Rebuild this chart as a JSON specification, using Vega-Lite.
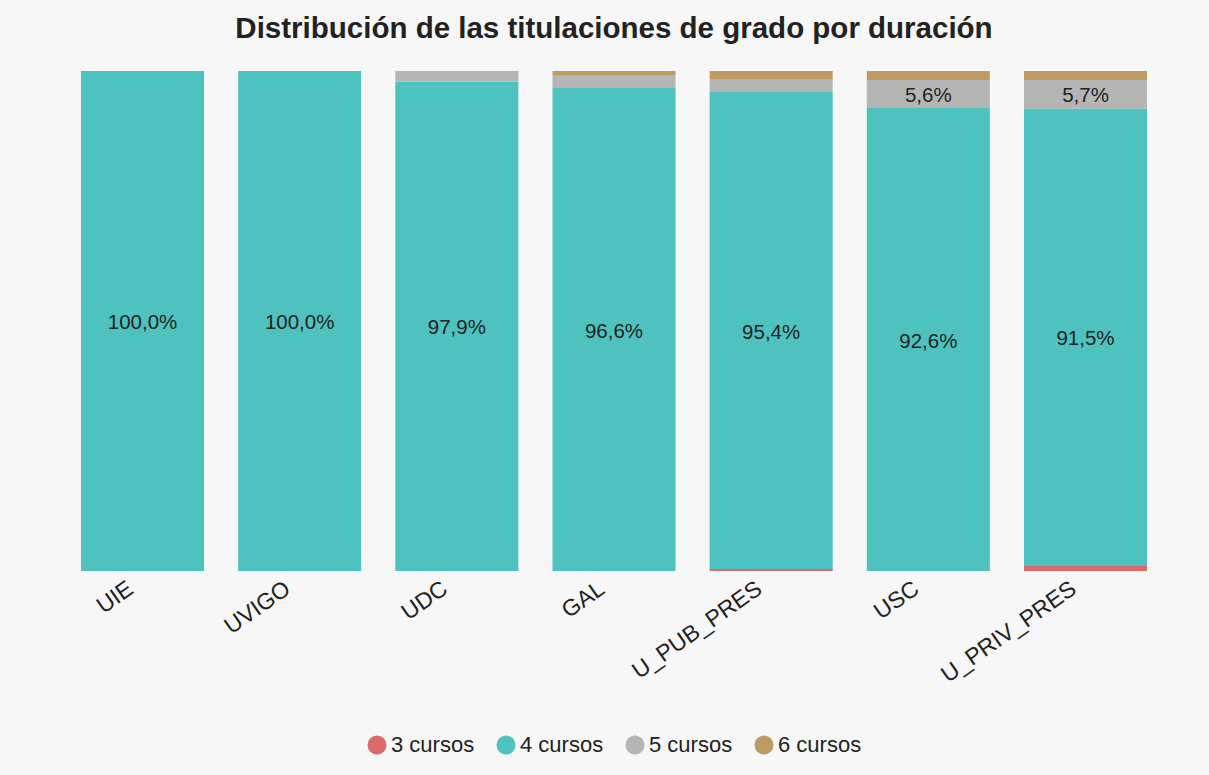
{
  "$schema": "https://vega.github.io/schema/vega-lite/v6.json",
  "width": 1100,
  "height": 500,
  "autosize": {"type": "none"},
  "padding": {"left": 64, "top": 71, "right": 45, "bottom": 204},
  "background": "#f7f7f7",
  "title": {
    "text": "Distribución de las titulaciones de grado por duración",
    "font": "Liberation Sans, Arial, sans-serif",
    "fontSize": 29.5,
    "fontWeight": "bold",
    "color": "#222222",
    "anchor": "middle",
    "baseline": "alphabetic",
    "offset": -2
  },
  "data": {
    "values": [
      {"univ": "UIE", "cursos": "4 cursos", "pct": 1.0},
      {"univ": "UVIGO", "cursos": "4 cursos", "pct": 1.0},
      {"univ": "UDC", "cursos": "4 cursos", "pct": 0.979},
      {"univ": "UDC", "cursos": "5 cursos", "pct": 0.021},
      {"univ": "GAL", "cursos": "4 cursos", "pct": 0.966},
      {"univ": "GAL", "cursos": "5 cursos", "pct": 0.026},
      {"univ": "GAL", "cursos": "6 cursos", "pct": 0.008},
      {"univ": "U_PUB_PRES", "cursos": "3 cursos", "pct": 0.004},
      {"univ": "U_PUB_PRES", "cursos": "4 cursos", "pct": 0.954},
      {"univ": "U_PUB_PRES", "cursos": "5 cursos", "pct": 0.026},
      {"univ": "U_PUB_PRES", "cursos": "6 cursos", "pct": 0.016},
      {"univ": "USC", "cursos": "4 cursos", "pct": 0.926},
      {"univ": "USC", "cursos": "5 cursos", "pct": 0.056},
      {"univ": "USC", "cursos": "6 cursos", "pct": 0.018},
      {"univ": "U_PRIV_PRES", "cursos": "3 cursos", "pct": 0.01},
      {"univ": "U_PRIV_PRES", "cursos": "4 cursos", "pct": 0.915},
      {"univ": "U_PRIV_PRES", "cursos": "5 cursos", "pct": 0.057},
      {"univ": "U_PRIV_PRES", "cursos": "6 cursos", "pct": 0.018}
    ]
  },
  "encoding": {
    "x": {
      "field": "univ",
      "type": "nominal",
      "sort": null,
      "scale": {"paddingInner": 0.217, "paddingOuter": 0.108},
      "axis": {
        "title": null,
        "domain": false,
        "ticks": false,
        "labelAngle": -35,
        "labelAlign": "right",
        "labelBaseline": "top",
        "labelFontSize": 23,
        "labelFont": "Liberation Sans, Arial, sans-serif",
        "labelColor": "#222222",
        "labelPadding": 6,
        "labelOffset": -18
      }
    },
    "y": {
      "field": "pct",
      "type": "quantitative",
      "stack": "zero",
      "scale": {"domain": [0, 1], "nice": false},
      "axis": null
    }
  },
  "layer": [
    {
      "mark": {"type": "bar"},
      "encoding": {
        "color": {
          "field": "cursos",
          "type": "nominal",
          "scale": {
            "domain": ["3 cursos", "4 cursos", "5 cursos", "6 cursos"],
            "range": ["#db6a69", "#4ec2be", "#b5b5b5", "#be9b62"]
          },
          "legend": {
            "title": null,
            "orient": "none",
            "direction": "horizontal",
            "legendX": 302,
            "legendY": 663,
            "symbolType": "circle",
            "symbolSize": 361,
            "symbolOpacity": 1,
            "symbolStrokeWidth": 0,
            "labelFontSize": 22,
            "labelFont": "Liberation Sans, Arial, sans-serif",
            "labelColor": "#222222",
            "labelOffset": 3,
            "columnPadding": 20
          }
        },
        "order": {"field": "cursos"}
      }
    },
    {
      "mark": {
        "type": "text",
        "fontSize": 20.5,
        "font": "Liberation Sans, Arial, sans-serif",
        "color": "#222222",
        "baseline": "middle",
        "dy": 2
      },
      "encoding": {
        "y": {
          "field": "pct",
          "type": "quantitative",
          "stack": "zero",
          "bandPosition": 0.5
        },
        "detail": {"field": "cursos"},
        "order": {"field": "cursos"},
        "text": {
          "condition": {"test": "datum.pct >= 0.05", "field": "pct", "type": "quantitative", "format": ".1%"},
          "value": ""
        }
      }
    }
  ],
  "config": {
    "view": {"stroke": null},
    "locale": {
      "number": {"decimal": ",", "thousands": ".", "grouping": [3], "currency": ["", " €"]}
    }
  }
}
